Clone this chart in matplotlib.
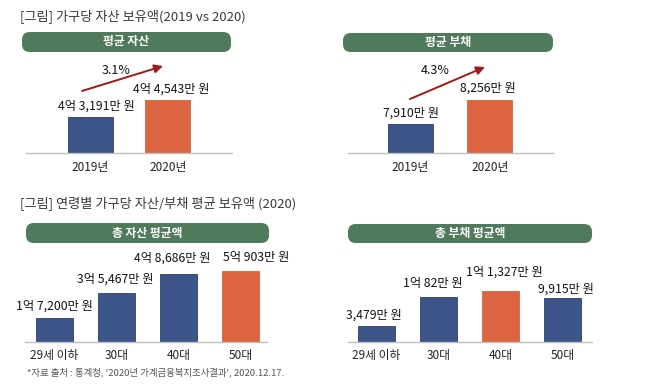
import matplotlib.pyplot as plt
from matplotlib.patches import FancyBboxPatch

plt.rcParams['font.family'] = ['Noto Sans CJK KR', 'DejaVu Sans']

W, H = 650, 387

# 가구당 자산/부채 (만 원)
years = ["2019년", "2020년"]
asset_year = [43191, 44543]
asset_year_labels = ["4억 3,191만 원", "4억 4,543만 원"]
debt_year = [7910, 8256]
debt_year_labels = ["7,910만 원", "8,256만 원"]

# 연령별 (2020)
ages = ["29세 이하", "30대", "40대", "50대"]
asset_age = [17200, 35467, 48686, 50903]
asset_age_labels = ["1억 7,200만 원", "3억 5,467만 원", "4억 8,686만 원", "5억 903만 원"]
debt_age = [3479, 10082, 11327, 9915]
debt_age_labels = ["3,479만 원", "1억 82만 원", "1억 1,327만 원", "9,915만 원"]

BLUE = "#3c5488"
ORANGE = "#dc6440"
GREEN = "#507a5c"
ARROW = "#a31818"

fig = plt.figure(figsize=(W / 100, H / 100), dpi=100)


def px_axes(x0, y0, x1, y1):
    return fig.add_axes([x0 / W, 1 - y1 / H, (x1 - x0) / W, (y1 - y0) / H])


def banner(x0, y0, x1, y1, text):
    p = FancyBboxPatch((x0 / W, 1 - y1 / H), (x1 - x0) / W, (y1 - y0) / H,
                       boxstyle="round,pad=0,rounding_size=0.012",
                       transform=fig.transFigure, facecolor=GREEN,
                       edgecolor="none", mutation_aspect=W / H)
    fig.patches.append(p)
    fig.text((x0 + x1) / 2 / W, 1 - (y0 + y1) / 2 / H, text, color="white",
             fontsize=8.5, fontweight="bold", ha="center", va="center")


def bar_panel(ax, cats, vals, labels, colors, ylim, xlim, width, pad, dx, dy):
    x = list(range(len(cats)))
    ax.bar(x, vals, width=width, color=colors,
           edgecolor=[c if c == ORANGE else "#2c3f6a" for c in colors], linewidth=0.6)
    for xi, v, lab, ox, oy in zip(x, vals, labels, dx, dy):
        ax.annotate(lab, (xi, v), xytext=(ox, oy), textcoords="offset points",
                    ha="center", va="bottom", fontsize=8.8, color="#111111")
    ax.set_xlim(*xlim)
    ax.set_ylim(*ylim)
    ax.set_xticks(x)
    ax.set_xticklabels(cats, fontsize=8.5, color="#222222")
    ax.tick_params(axis="x", length=0, pad=pad)
    ax.set_yticks([])
    for s in ["top", "left", "right"]:
        ax.spines[s].set_visible(False)
    ax.spines["bottom"].set_color("#bfbfbf")
    ax.spines["bottom"].set_linewidth(1)
    ax.patch.set_alpha(0)


def growth_arrow(ax, start, end, txt, txt_pos):
    ax.annotate("", xy=end, xytext=start, xycoords="axes fraction",
                textcoords="axes fraction",
                arrowprops=dict(arrowstyle="-|>,head_length=0.5,head_width=0.25",
                                color=ARROW, lw=1.4, shrinkA=0, shrinkB=0))
    ax.text(txt_pos[0], txt_pos[1], txt, transform=ax.transAxes, ha="center",
            va="center", fontsize=9, color="#111111")


# titles
fig.text(20 / W, 1 - 16 / H, "[그림] 가구당 자산 보유액(2019 vs 2020)",
         fontsize=9.5, color="#3a3a3a", va="center", ha="left")
fig.text(20 / W, 1 - 203 / H, "[그림] 연령별 가구당 자산/부채 평균 보유액 (2020)",
         fontsize=9.5, color="#3a3a3a", va="center", ha="left")

# top-left: 평균 자산
banner(22, 32, 231, 52, "평균 자산")
ax1 = px_axes(26, 60, 232, 153)
bar_panel(ax1, years, asset_year, asset_year_labels, [BLUE, ORANGE],
          (40250, 47820), (-0.83, 1.83), 0.58, 6, [4.3, 2.9], [2.8, 3.2])
growth_arrow(ax1, (0.272, 0.667), (0.665, 0.935), "3.1%", (0.437, 0.892))

# top-right: 평균 부채
banner(343, 33, 553, 52, "평균 부채")
ax2 = px_axes(348, 60, 553, 153)
bar_panel(ax2, years, debt_year, debt_year_labels, [BLUE, ORANGE],
          (7488, 8828), (-0.79, 1.80), 0.57, 6, [0, -1], [2.8, 3.4])
growth_arrow(ax2, (0.302, 0.58), (0.668, 0.925), "4.3%", (0.424, 0.892))

# bottom-left: 총 자산 평균액
banner(26, 223, 269, 243, "총 자산 평균액")
ax3 = px_axes(25, 250, 267, 342)
bar_panel(ax3, ages, asset_age, asset_age_labels, [BLUE, BLUE, BLUE, ORANGE],
          (0, 66240), (-0.47, 3.43), 0.6, 5, [0, -0.7, -4.5, 11.5],
          [4.0, 5.3, 7.0, 5.0])

# bottom-right: 총 부채 평균액
banner(348, 224, 592, 243, "총 부채 평균액")
ax4 = px_axes(348, 250, 592, 342)
bar_panel(ax4, ages, debt_age, debt_age_labels, [BLUE, BLUE, ORANGE, BLUE],
          (0, 20600), (-0.46, 3.48), 0.59, 5, [-1.8, -4.2, 3.2, 2.5],
          [3.6, 5.0, 9.0, 1.5])

fig.text(27 / W, 1 - 372 / H,
         "*자료 출처 : 통계청, '2020년 가계금융복지조사결과', 2020.12.17.",
         fontsize=6.8, color="#555555", va="center", ha="left")

fig.savefig("out.png", dpi=100)
